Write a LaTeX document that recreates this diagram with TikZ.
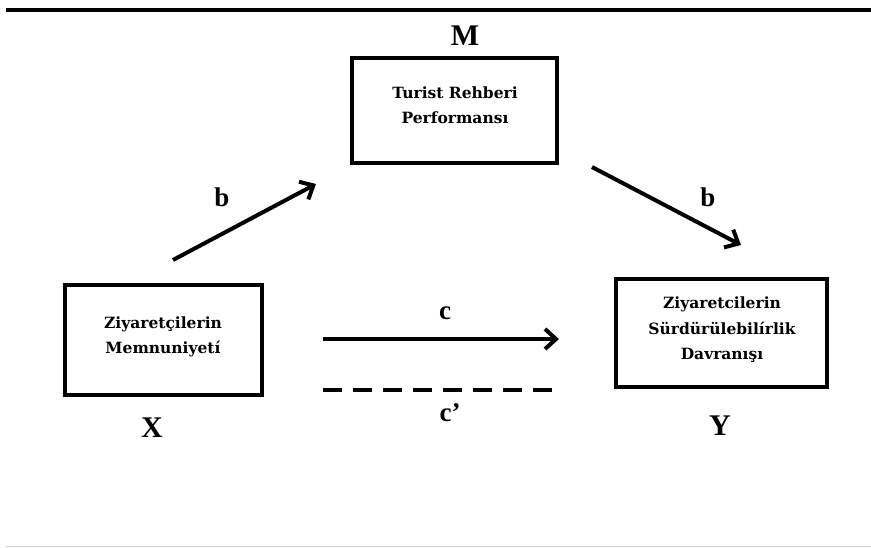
\documentclass[tikz,border=0pt]{standalone}
\usepackage{fontspec}
\setmainfont{Liberation Serif}
\newfontfamily\boxfont{DejaVu Serif}
\begin{document}
\begin{tikzpicture}[x=1pt,y=-1pt,
  varbox/.style={draw, line width=4pt, inner sep=0pt},
  boxtext/.style={font=\boxfont\bfseries\fontsize{15.5}{25.5}\selectfont, align=center, inner sep=0pt},
  biglabel/.style={font=\bfseries\fontsize{30}{31}\selectfont, inner sep=0pt},
  pathlabel/.style={font=\bfseries\fontsize{27}{28}\selectfont, inner sep=0pt},
  arr/.style={line width=4pt, -{Straight Barb[length=11pt,width=20pt,line width=4pt]}}]
\usetikzlibrary{arrows.meta}
\useasboundingbox (0,0) rectangle (871,547);
% rules
\draw[line width=3.8pt] (6,10) coordinate (tl) -- (871,10) coordinate (tr);
\draw[line width=1pt, black!18] (6,546) coordinate (bl) -- (871,546) coordinate (br);
% boxes
\node[varbox, minimum width=205pt, minimum height=105pt] (M) at (454,110) {};
\node[boxtext] (Mt) at (455,105) {Turist Rehberi\\Performansı};
\node[varbox, minimum width=197pt, minimum height=110pt] (X) at (163.5,340) {};
\node[boxtext] (Xt) at (163,337) {Ziyaretçilerin\\Memnuniyetí};
\node[varbox, minimum width=211pt, minimum height=108pt] (Y) at (721.5,333) {};
\node[boxtext] (Yt) at (722,330) {Ziyaretcilerin\\Sürdürülebilírlik\\Davranışı};
% big labels
\node[biglabel] (Ml) at (465,36) {M};
\node[biglabel] (Xl) at (152,428) {X};
\node[biglabel] (Yl) at (720,426) {Y};
% arrows
\coordinate (a1s) at (173,260);
\coordinate (a1e) at (316,184);
\draw[arr] (a1s) -- (a1e);
\coordinate (a2s) at (592,167);
\coordinate (a2e) at (741,245);
\draw[arr] (a2s) -- (a2e);
\coordinate (cs) at (323,339);
\coordinate (ce) at (559,339);
\draw[arr] (cs) -- (ce);
\coordinate (ds) at (323,390);
\coordinate (de) at (556,390);
\draw[line width=4pt, dash pattern=on 19pt off 11pt] (ds) -- (de);
% path labels
\node[pathlabel] (b1) at (222,197) {b};
\node[pathlabel] (b2) at (708,197) {b};
\node[pathlabel] (cl) at (445,313) {c};
\node[pathlabel] (cpl) at (450,413) {c’};
\end{tikzpicture}
\end{document}
